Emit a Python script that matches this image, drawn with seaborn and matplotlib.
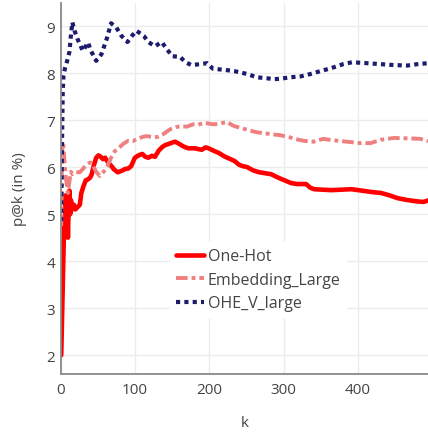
import matplotlib
matplotlib.use('Agg')
import matplotlib.pyplot as plt
import seaborn as sns
import pandas as pd

# p@k curves
one_hot_k = [1, 5, 6, 7, 8, 9, 10, 11, 12, 13, 14, 16, 18, 20, 23, 26, 28, 31, 34, 37, 40, 42,
             45, 48, 51, 54, 57, 60, 63, 67, 72, 77, 82, 87, 91, 95, 100, 105, 110, 114, 118,
             123, 127, 132, 137, 141, 145, 150, 154, 159, 164, 168, 172, 177, 181, 186, 190,
             195, 199, 203, 207, 213, 220, 227, 234, 240, 245, 251, 259, 267, 275, 283, 292,
             301, 310, 318, 330, 336, 341, 352, 364, 378, 391, 405, 418, 431, 442, 453, 466,
             480, 488, 494]
one_hot_p = [2.0, 4.9, 4.5, 5.4, 4.6, 5.3, 4.5, 5.2, 5.5, 5.0, 5.3, 5.1, 5.2, 5.1, 5.15, 5.2,
             5.45, 5.6, 5.72, 5.74, 5.78, 5.85, 6.05, 6.2, 6.25, 6.22, 6.17, 6.2, 6.12, 6.05,
             5.95, 5.89, 5.92, 5.96, 5.97, 6.02, 6.2, 6.25, 6.28, 6.22, 6.2, 6.24, 6.22, 6.35,
             6.43, 6.47, 6.49, 6.52, 6.54, 6.5, 6.45, 6.42, 6.4, 6.4, 6.4, 6.38, 6.37, 6.42,
             6.4, 6.37, 6.34, 6.3, 6.23, 6.18, 6.13, 6.05, 6.02, 6.0, 5.93, 5.89, 5.87, 5.85,
             5.78, 5.72, 5.66, 5.64, 5.64, 5.56, 5.53, 5.52, 5.51, 5.52, 5.53, 5.5, 5.47, 5.45,
             5.4, 5.34, 5.3, 5.27, 5.26, 5.29]

emb_k = [1, 2, 3, 4, 5, 6, 7, 9, 10, 12, 14, 16, 20, 26, 30, 35, 40, 44, 48, 53, 58, 63, 68,
         73, 78, 84, 91, 97, 103, 110, 116, 123, 130, 138, 148, 155, 161, 170, 178, 185, 192,
         198, 205, 212, 218, 224, 230, 234, 243, 254, 264, 274, 283, 295, 309, 318, 327, 340,
         353, 367, 385, 403, 417, 430, 448, 471, 484, 494]
emb_p = [4.75, 6.2, 6.53, 6.45, 6.2, 6.0, 5.8, 5.55, 5.45, 5.7, 5.9, 5.85, 5.89, 5.89, 5.96,
         6.05, 6.1, 6.02, 5.9, 5.81, 5.9, 6.02, 6.2, 6.34, 6.4, 6.49, 6.56, 6.55, 6.6, 6.64,
         6.66, 6.64, 6.64, 6.7, 6.81, 6.85, 6.87, 6.86, 6.91, 6.9, 6.94, 6.93, 6.91, 6.92,
         6.94, 6.96, 6.9, 6.87, 6.83, 6.78, 6.74, 6.72, 6.7, 6.68, 6.63, 6.59, 6.56, 6.54, 6.6,
         6.57, 6.54, 6.51, 6.51, 6.58, 6.62, 6.61, 6.6, 6.55]

ohe_k = [1, 2, 3, 4, 6, 8, 12, 14, 16, 18, 23, 30, 37, 41, 48, 55, 62, 68, 75, 82, 90, 96, 102,
         112, 118, 127, 136, 143, 150, 161, 168, 176, 188, 197, 205, 220, 234, 251, 264, 277,
         287, 296, 309, 323, 336, 349, 363, 380, 392, 412, 430, 448, 466, 480, 494]
ohe_p = [4.85, 6.5, 7.6, 7.95, 8.1, 8.2, 8.45, 8.8, 9.08, 8.94, 8.72, 8.47, 8.65, 8.47, 8.26,
         8.4, 8.72, 9.06, 8.97, 8.79, 8.66, 8.79, 8.9, 8.79, 8.66, 8.57, 8.66, 8.51, 8.36, 8.34,
         8.23, 8.17, 8.19, 8.21, 8.09, 8.07, 8.04, 7.98, 7.91, 7.89, 7.87, 7.88, 7.91, 7.93,
         7.98, 8.04, 8.1, 8.19, 8.23, 8.21, 8.19, 8.17, 8.16, 8.19, 8.21]

sns.set_style("white")
plt.rcParams['font.family'] = ['Open Sans', 'DejaVu Sans']
text_color = '#444444'
axis_color = '#8a8a8a'

fig = plt.figure(figsize=(4.28, 4.35), dpi=100)
ax = fig.add_axes([60.5 / 428, 60 / 435, (428 - 60.5) / 428, (431 - 60) / 435])

df1 = pd.DataFrame({'k': one_hot_k, 'p': one_hot_p})
df2 = pd.DataFrame({'k': emb_k, 'p': emb_p})
df3 = pd.DataFrame({'k': ohe_k, 'p': ohe_p})

sns.lineplot(x='k', y='p', data=df1, ax=ax, color='#ff0000', linewidth=3.3,
             label='One-Hot', solid_joinstyle='round')
sns.lineplot(x='k', y='p', data=df2, ax=ax, color='#f08080', linewidth=2.8,
             label='Embedding_Large', linestyle=(0, (3, 1, 1, 1)))
sns.lineplot(x='k', y='p', data=df3, ax=ax, color='#1c1c6e', linewidth=3.0,
             label='OHE_V_large', linestyle=(0, (1, 1)))

ax.set_xlim(0, 494)
ax.set_ylim(1.6, 9.49)
ax.set_xticks([0, 100, 200, 300, 400])
ax.set_yticks([2, 3, 4, 5, 6, 7, 8, 9])
ax.grid(True, color='#ececec', linewidth=1.0)
ax.set_axisbelow(True)

for side in ['top', 'right']:
    ax.spines[side].set_visible(False)
for side in ['left', 'bottom']:
    ax.spines[side].set_color(axis_color)
    ax.spines[side].set_linewidth(1.3)

ax.tick_params(axis='both', direction='in', length=3, width=1, color=axis_color,
               labelsize=11, labelcolor=text_color)
ax.tick_params(axis='x', pad=6)
ax.tick_params(axis='y', pad=4)

ax.set_xlabel('k', fontsize=11, color=text_color, labelpad=13)
ax.set_ylabel('p@k (in %)', fontsize=11, color=text_color, labelpad=14)

leg = ax.legend(loc='upper left', bbox_to_anchor=(170 / 428, 1 - 243 / 435),
                bbox_transform=fig.transFigure, borderaxespad=0, borderpad=0.4,
                frameon=True, facecolor='white', edgecolor='none', framealpha=1,
                fancybox=False, fontsize=11.5, handlelength=1.75, handletextpad=0.2,
                labelspacing=0.47)
for t in leg.get_texts():
    t.set_color(text_color)

fig.savefig('out.png', dpi=100)
